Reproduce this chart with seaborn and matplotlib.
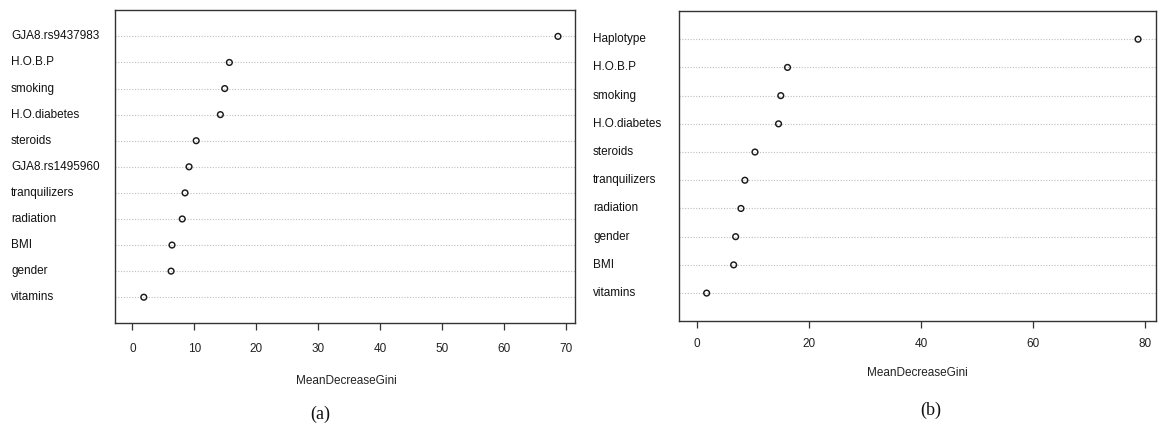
import matplotlib
matplotlib.use("Agg")
import matplotlib.pyplot as plt
import matplotlib.transforms as mtransforms
import seaborn as sns
import pandas as pd

# ---- data (panel a) ----
vars_a = ["GJA8.rs9437983", "H.O.B.P", "smoking", "H.O.diabetes", "steroids",
          "GJA8.rs1495960", "tranquilizers", "radiation", "BMI", "gender", "vitamins"]
gini_a = [68.65, 15.65, 14.9, 14.2, 10.3, 9.15, 8.5, 8.05, 6.4, 6.25, 1.85]
ticks_a = [0, 10, 20, 30, 40, 50, 60, 70]

# ---- data (panel b) ----
vars_b = ["Haplotype", "H.O.B.P", "smoking", "H.O.diabetes", "steroids",
          "tranquilizers", "radiation", "gender", "BMI", "vitamins"]
gini_b = [78.7, 16.2, 15.0, 14.6, 10.4, 8.6, 7.9, 6.95, 6.6, 1.78]
ticks_b = [0, 20, 40, 60, 80]

sns.set_theme(style="white")
plt.rcParams["font.family"] = ["Liberation Sans", "DejaVu Sans"]

W, H = 1163, 426
fig = plt.figure(figsize=(W / 100, H / 100), dpi=100)


def fx(px):
    return px / W


def fy(py):
    return 1 - py / H


def dotchart(ax, names, vals, ticks, label_x_px, tick_pad, xlab_xy, box_px):
    n = len(names)
    df = pd.DataFrame({"var": names, "val": vals, "pos": list(range(n, 0, -1))})
    for p in df["pos"]:
        ax.axhline(p, color="#bdbdbd", lw=0.8, ls=(0, (1, 1.5)), zorder=1)
    sns.scatterplot(data=df, x="val", y="pos", ax=ax, marker="o", s=17,
                    facecolor="none", edgecolor="#1a1a1a", linewidth=1.05,
                    zorder=3, legend=False)
    mx = max(vals)
    ext = 0.04 * mx
    ax.set_xlim(-ext, mx + ext)
    ax.set_ylim(0, n + 1)
    ax.set_yticks([])
    ax.set_xticks(ticks)
    ax.set_xticklabels([str(t) for t in ticks])
    ax.tick_params(axis="x", bottom=True, length=5, width=0.9, color="#333333",
                   labelsize=8.5, pad=tick_pad, labelcolor="#222222")
    for s in ax.spines.values():
        s.set_visible(True)
        s.set_color("#333333")
        s.set_linewidth(1.0)
    ax.set_xlabel("MeanDecreaseGini", fontsize=8.5, color="#222222")
    ax.set_ylabel("")
    x0, y0, x1, y1 = box_px
    lx = (xlab_xy[0] - x0) / (x1 - x0)
    ly = (y1 - xlab_xy[1]) / (y1 - y0)
    ax.xaxis.set_label_coords(lx, ly)
    ax.xaxis.label.set_va("center")
    tr = mtransforms.blended_transform_factory(fig.transFigure, ax.transData)
    for name, p in zip(df["var"], df["pos"]):
        ax.text(fx(label_x_px), p, name, transform=tr, ha="left", va="center",
                fontsize=8.5, color="#111111")


# panel a
box_a = (115.3, 10.3, 575.0, 323.3)
ax1 = fig.add_axes([fx(box_a[0]), fy(box_a[3]), fx(box_a[2] - box_a[0]),
                    (box_a[3] - box_a[1]) / H])
dotchart(ax1, vars_a, gini_a, ticks_a, 11, 9, (346, 381), box_a)

# panel b
box_b = (679.0, 11.0, 1155.7, 321.3)
ax2 = fig.add_axes([fx(box_b[0]), fy(box_b[3]), fx(box_b[2] - box_b[0]),
                    (box_b[3] - box_b[1]) / H])
dotchart(ax2, vars_b, gini_b, ticks_b, 593, 7, (917, 373), box_b)

fig.text(fx(320), fy(414), "(a)", ha="center", va="center", fontsize=13,
         family=["Liberation Serif", "DejaVu Serif"], color="#111111")
fig.text(fx(931), fy(410), "(b)", ha="center", va="center", fontsize=13,
         family=["Liberation Serif", "DejaVu Serif"], color="#111111")

fig.savefig("out.png", dpi=100)
